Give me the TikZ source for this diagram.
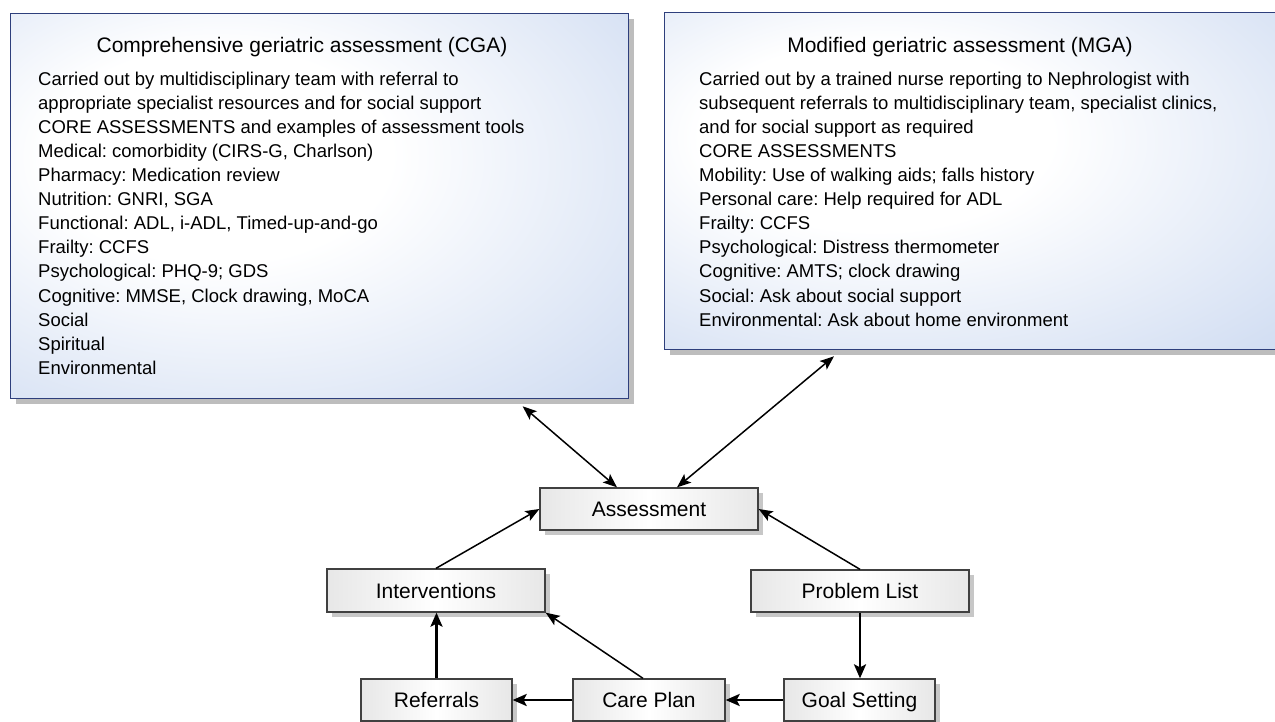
\documentclass[tikz,border=0pt]{standalone}
\usepackage{fontspec}
\setmainfont{Liberation Sans}
\usetikzlibrary{arrows.meta,shadows,calc}
\definecolor{boxblue}{HTML}{C6D5EF}
\definecolor{boxborder}{HTML}{2E3F7C}
\definecolor{nodegray}{HTML}{CFCFCF}
\definecolor{nodeborder}{HTML}{404040}
\pgfdeclareradialshading{boxshade}{\pgfpoint{-10bp}{8bp}}{color(0bp)=(white); color(14bp)=(white); color(47bp)=(boxblue); color(80bp)=(boxblue)}
\pgfdeclarehorizontalshading{nodeshade}{100bp}{color(0bp)=(nodegray); color(25bp)=(nodegray!50!white); color(50bp)=(white); color(75bp)=(nodegray!50!white); color(100bp)=(nodegray)}
\frenchspacing
\begin{document}
\begin{tikzpicture}[x=1pt,y=-1pt,
  bigbox/.style={draw=boxborder, line width=1.3pt, shading=boxshade,
    drop shadow={shadow xshift=5pt,shadow yshift=-5pt,fill=black!26,opacity=1},
    anchor=north west, inner sep=0pt},
  stepbox/.style={draw=nodeborder, line width=1.3pt, shading=nodeshade,
    drop shadow={shadow xshift=5pt,shadow yshift=-5pt,fill=black!22,opacity=1},
    minimum height=42pt, text height=15.2pt, text depth=0pt, inner sep=0pt,
    font=\fontsize{21}{25}\selectfont},
  ttl/.style={font=\fontsize{21}{25}\selectfont, anchor=base, inner sep=0pt},
  bodytxt/.style={font=\fontsize{18.5}{24}\selectfont, anchor=base west, inner sep=0pt},
  lnk/.style={line width=1.5pt, -{Stealth[length=14pt,width=11pt,inset=3pt]}},
  lnkthick/.style={line width=2.5pt, -{Stealth[length=14pt,width=12pt,inset=3pt]}},
  dbl/.style={line width=1.5pt, {Stealth[length=14pt,width=11pt,inset=3pt]}-{Stealth[length=14pt,width=11pt,inset=3pt]}}
]
\useasboundingbox (0,0) rectangle (1275,722);

% big boxes
\node[bigbox, minimum width=618pt, minimum height=385pt] (cga) at (10,13) {};
\node[bigbox, minimum width=630pt, minimum height=337pt] (mga) at (664,12) {};

\node[ttl] (cgat) at (302,53) {Comprehensive geriatric assessment (CGA)};
\node[ttl] (mgat) at (960,53) {Modified geriatric assessment (MGA)};

\foreach \t [count=\i] in {
  Carried out by multidisciplinary team with referral to,
  appropriate specialist resources and for social support,
  CORE ASSESSMENTS and examples of assessment tools,
  {Medical: comorbidity (CIRS-G, Charlson)},
  Pharmacy: Medication review,
  {Nutrition: GNRI, SGA},
  {Functional: ADL, i-ADL, Timed-up-and-go},
  Frailty: CCFS,
  Psychological: PHQ-9; GDS,
  {Cognitive: MMSE, Clock drawing, MoCA},
  Social,
  Spiritual,
  Environmental}
  \node[bodytxt] (cl\i) at (38,{86+24*(\i-1)}) {\t};

\foreach \t [count=\i] in {
  Carried out by a trained nurse reporting to Nephrologist with,
  {subsequent referrals to multidisciplinary team, specialist clinics,},
  and for social support as required,
  CORE ASSESSMENTS,
  Mobility: Use of walking aids; falls history,
  Personal care: Help required for ADL,
  Frailty: CCFS,
  Psychological: Distress thermometer,
  Cognitive: AMTS; clock drawing,
  Social: Ask about social support,
  Environmental: Ask about home environment}
  \node[bodytxt] (ml\i) at (699,{86+24*(\i-1)}) {\t};

% cycle nodes
\node[stepbox, minimum width=218pt] (assess) at (649,509) {Assessment};
\node[stepbox, minimum width=218pt, minimum height=43pt] (interv) at (436,590.5) {Interventions};
\node[stepbox, minimum width=218pt] (prob) at (860,591) {Problem List};
\node[stepbox, minimum width=151pt] (ref) at (436.5,700) {Referrals};
\node[stepbox, minimum width=152pt] (care) at (649,700) {Care Plan};
\node[stepbox, minimum width=151pt] (goal) at (859.5,700) {Goal Setting};

% connectors
\draw[dbl] ([shift={(203pt,-7pt)}]cga.south) -- ([xshift=-32pt]assess.north);
\draw[dbl] ([shift={(170pt,-6pt)}]mga.south west) -- ([xshift=28pt]assess.north);
\draw[lnk] (interv.north) -- (assess.west);
\draw[lnk] (prob.north) -- (assess.east);
\draw[lnkthick] (prob.south) -- (prob.south |- goal.north);
\draw[lnkthick] (goal.west) -- (care.east);
\draw[lnkthick] (care.west) -- (ref.east);
\draw[lnk] ([xshift=-6pt]care.north) -- (interv.south east);
\draw[lnkthick] (ref.north) -- (ref.north |- interv.south);
\end{tikzpicture}
\end{document}
